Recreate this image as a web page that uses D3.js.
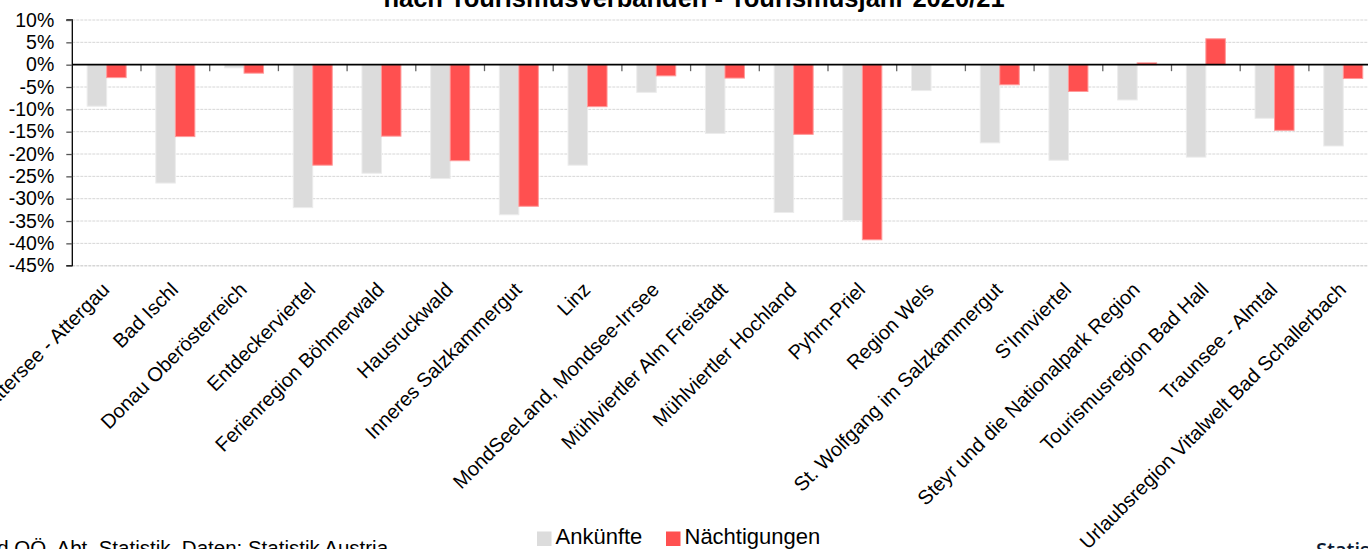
<!DOCTYPE html>
<html>
<head>
<meta charset="utf-8">
<script src="https://cdn.jsdelivr.net/npm/d3@7"></script>
<style>
html,body{margin:0;padding:0;background:#fff;overflow:hidden;}
svg{display:block;}
text{font-family:"Liberation Sans",Arial,sans-serif;}
</style>
</head>
<body>
<svg id="chart" width="1368" height="549"></svg>
<script>
const categories = ["Attersee - Attergau","Bad Ischl","Donau Oberösterreich","Entdeckerviertel","Ferienregion Böhmerwald","Hausruckwald","Inneres Salzkammergut","Linz","MondSeeLand, Mondsee-Irrsee","Mühlviertler Alm Freistadt","Mühlviertler Hochland","Pyhrn-Priel","Region Wels","St. Wolfgang im Salzkammergut","S'Innviertel","Steyr und die Nationalpark Region","Tourismusregion Bad Hall","Traunsee - Almtal","Urlaubsregion Vitalwelt Bad Schallerbach"];
const seriesNames = ["Ankünfte","Nächtigungen"];
const ankuenfte = [-9.3,-26.5,-0.7,-32.0,-24.3,-25.5,-33.6,-22.5,-6.2,-15.4,-33.1,-34.9,-5.8,-17.5,-21.4,-7.9,-20.7,-12.0,-18.2];
const naechtigungen = [-2.9,-16.1,-1.9,-22.5,-16.0,-21.5,-31.7,-9.4,-2.5,-3.0,-15.6,-39.2,0,-4.5,-6.0,0.4,5.8,-14.7,-3.1];
const yTicks = [10,5,0,-5,-10,-15,-20,-25,-30,-35,-40,-45];
const titleText = "nach Tourismusverbänden - Tourismusjahr 2020/21";
const sourceText = "Grafik: Land OÖ, Abt. Statistik, Daten: Statistik Austria";
const colors = {"Ankünfte":"#dcdcdc","Nächtigungen":"#ff5050"};
const strokes = {"Ankünfte":"#ececec","Nächtigungen":"#ff9a9a"};

const svg = d3.select("#chart");
const left = 72.3, bandW = 68.7;
const x = d3.scaleBand().domain(categories).range([left, left + bandW*categories.length]).padding(0);
const xs = d3.scaleBand().domain(seriesNames).range([0, x.bandwidth()]).paddingInner(0).paddingOuter(0.762);
const y = d3.scaleLinear().domain([-45,10]).range([265.7,20]);

// gridlines
svg.append("g").selectAll("line").data(yTicks.filter(d=>d!==0)).join("line")
  .attr("x1",left).attr("x2",1368).attr("y1",d=>y(d)).attr("y2",d=>y(d))
  .attr("stroke","#d6d6d6").attr("stroke-width",d=>d===-45?1.5:1).attr("stroke-dasharray","3,1");

// bars
const data = categories.map((c,i)=>({cat:c, vals:[{s:"Ankünfte",v:ankuenfte[i]},{s:"Nächtigungen",v:naechtigungen[i]}]}));
const g = svg.append("g").selectAll("g").data(data).join("g").attr("transform",d=>`translate(${x(d.cat)},0)`);
g.selectAll("rect").data(d=>d.vals).join("rect")
  .attr("x",d=>xs(d.s)).attr("width",xs.bandwidth())
  .attr("y",d=>Math.min(y(d.v),y(0))).attr("height",d=>Math.abs(y(d.v)-y(0)))
  .attr("fill",d=>colors[d.s]).attr("stroke",d=>strokes[d.s]).attr("stroke-width",1);

// y axis
const yAxis = d3.axisLeft(y).tickValues(yTicks).tickSize(6).tickPadding(12).tickFormat(d=>d+"%");
const ya = svg.append("g").attr("transform",`translate(${left},0)`).call(yAxis);
ya.select(".domain").attr("stroke","#000").attr("stroke-width",1.3).attr("d",`M-6,${y(10)}H0V${y(-45)}H-6`);
ya.selectAll(".tick line").attr("stroke","#555").attr("stroke-width",1.3);
ya.selectAll(".tick text").attr("font-size","19.5px").attr("fill","#000").style("font-family","'Liberation Sans',Arial,sans-serif");

// zero line + category ticks
svg.append("g").selectAll("line").data(categories.slice(1)).join("line")
  .attr("x1",d=>x(d)).attr("x2",d=>x(d)).attr("y1",y(0)).attr("y2",y(0)+6.5)
  .attr("stroke","#666").attr("stroke-width",1.3);
svg.append("line").attr("x1",left).attr("x2",1368).attr("y1",y(0)).attr("y2",y(0))
  .attr("stroke","#000").attr("stroke-width",1.6);

// category labels
svg.append("g").selectAll("text").data(categories).join("text")
  .attr("transform",d=>`translate(${x(d)+x.bandwidth()/2+4},291) rotate(-45)`)
  .attr("text-anchor","end").attr("font-size","20px").attr("fill","#000").text(d=>d);

// title
svg.append("text").attr("x",694).attr("y",7).attr("text-anchor","middle")
  .attr("font-size","25.5px").attr("font-weight","bold").attr("fill","#000").text(titleText);

// legend
const leg = svg.append("g");
const legX = [537, 666];
seriesNames.forEach((s,i)=>{
  leg.append("rect").attr("x",legX[i]).attr("y",531.5).attr("width",14.5).attr("height",14.5).attr("fill",colors[s]);
  leg.append("text").attr("x",legX[i]+18.5).attr("y",543.5).attr("font-size","22px").attr("fill","#000").text(s);
});

// source
svg.append("text").attr("x",-103).attr("y",555).attr("font-size","20.5px").attr("fill","#000").text(sourceText);
svg.append("text").attr("x",1316).attr("y",557).attr("font-size","20px").attr("font-weight","600")
  .attr("fill","#0b1a33").style("font-family","'Open Sans',sans-serif").text("Statista");
</script>
</body>
</html>
